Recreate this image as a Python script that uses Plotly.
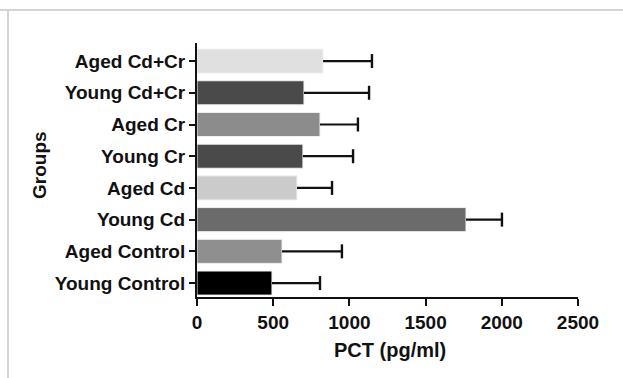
import plotly.graph_objects as go

groups = ["Young Control", "Aged Control", "Young Cd", "Aged Cd",
          "Young Cr", "Aged Cr", "Young Cd+Cr", "Aged Cd+Cr"]
means = [492, 558, 1765, 656, 695, 807, 702, 827]
sds = [315, 393, 236, 230, 329, 249, 427, 321]
colors = ["#000000", "#8f8f8f", "#6b6b6b", "#cbcbcb",
          "#4a4a4a", "#8c8c8c", "#4a4a4a", "#e0e0e0"]
x_ticks = [0, 500, 1000, 1500, 2000, 2500]

FONT = "Liberation Sans"

fig = go.Figure()
fig.add_trace(go.Bar(
    y=groups, x=means, orientation="h",
    marker=dict(color=colors, line=dict(color="#f2f2f2", width=1)),
    width=0.76, showlegend=False, hoverinfo="skip",
))

# one-sided error bars (from bar end to mean+SD)
wx, wy = [], []
for g, m, s in zip(groups, means, sds):
    wx += [m, m + s, None]
    wy += [g, g, None]
fig.add_trace(go.Scatter(
    x=wx, y=wy, mode="lines", line=dict(color="#111111", width=2.2),
    showlegend=False, hoverinfo="skip", cliponaxis=False,
))
fig.add_trace(go.Scatter(
    x=[m + s for m, s in zip(means, sds)], y=groups, mode="markers",
    marker=dict(symbol="line-ns", size=10, line=dict(color="#111111", width=2.4)),
    showlegend=False, hoverinfo="skip", cliponaxis=False,
))

fig.update_layout(
    width=623, height=378,
    margin=dict(l=197, r=45, t=43, b=81),
    paper_bgcolor="white", plot_bgcolor="white",
    font=dict(family=FONT, size=18, color="#111111"),
    bargap=0.24,
    xaxis=dict(
        range=[0, 2500], tickvals=x_ticks, ticktext=[str(v) for v in x_ticks],
        showgrid=False, zeroline=False, showline=True, linecolor="#111111", linewidth=2,
        ticks="outside", ticklen=7, tickwidth=2, tickcolor="#111111",
        tickfont=dict(family=FONT, size=19, color="#111111", weight="bold"),
    ),
    yaxis=dict(
        categoryorder="array", categoryarray=groups,
        range=[-0.44, 7.57],
        showgrid=False, zeroline=False, showline=True, linecolor="#111111", linewidth=2,
        ticks="outside", ticklen=6, tickwidth=2, tickcolor="#111111",
        tickfont=dict(family=FONT, size=19, color="#111111", weight="bold"),
    ),
    shapes=[
        dict(type="line", xref="paper", yref="paper", x0=-197/381, x1=1.2, y0=1 + 33/254, y1=1 + 33/254,
             line=dict(color="#d4d4d4", width=2)),
        dict(type="line", xref="paper", yref="paper", x0=-189/381, x1=-189/381, y0=-0.5, y1=1 + 34/254,
             line=dict(color="#d4d4d4", width=2)),
    ],
    annotations=[
        dict(text="PCT (pg/ml)", xref="paper", yref="paper", x=(390 - 197) / 381, y=-(350 - 297) / 254,
             showarrow=False, xanchor="center", yanchor="middle",
             font=dict(family=FONT, size=20, color="#111111", weight="bold")),
        dict(text="Groups", xref="paper", yref="paper", x=-(197 - 39) / 381, y=(297 - 165) / 254,
             showarrow=False, xanchor="center", yanchor="middle", textangle=-90,
             font=dict(family=FONT, size=19, color="#111111", weight="bold")),
    ],
)

fig.write_html("out.html")
